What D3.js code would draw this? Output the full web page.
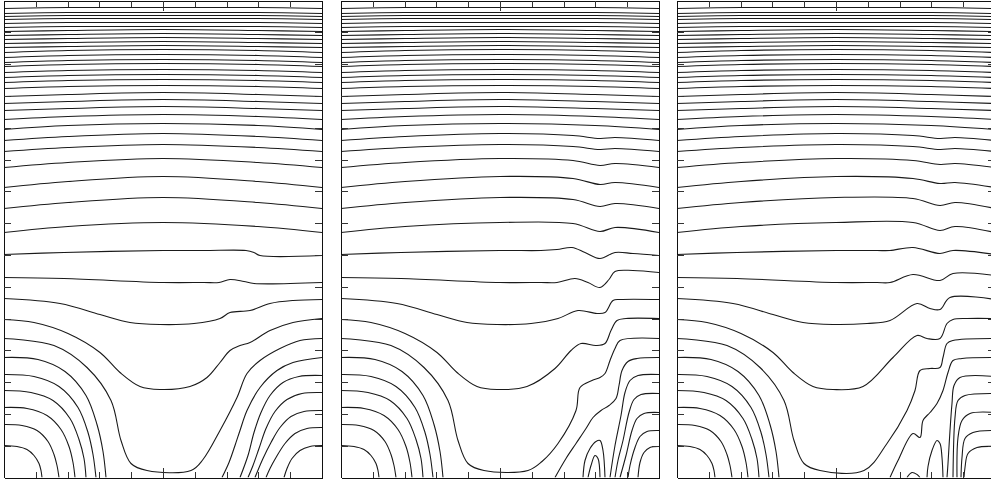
<!DOCTYPE html>
<html>
<head>
<meta charset="utf-8">
<script src="https://cdn.jsdelivr.net/npm/d3@7"></script>
<style>
  body { margin: 0; background: #fff; }
  svg { display: block; }
</style>
</head>
<body>
<svg id="chart" width="991" height="481"></svg>
<script>
// model grid units: x 0..318 across, depth 0..477 down
const xTicks = [31.8, 63.6, 95.4, 127.2, 159, 190.8, 222.6, 254.4, 286.2];
const yTicks = [31.8, 63.6, 95.4, 127.2, 159, 190.8, 222.6, 254.4, 286.2, 318, 349.8, 381.6, 413.4, 445.2];
const panelLeft = [4, 341, 677];

// upper, nearly flat isolines: depth at edge, at x=64/254 and at centre
const topX = [0, 64, 159, 254, 318];
const topCenter = [7, 12, 15, 18, 22, 26, 29, 33, 37, 41, 45, 49, 54, 59, 63, 69, 74, 79, 85, 92, 99, 106, 114, 123, 133, 144, 158, 176, 197, 222];
const topMid    = [7, 12, 15, 18, 22, 26, 30, 34, 38, 42, 46, 50, 55, 60, 64, 70, 75, 80, 86, 94, 101, 108, 116, 125, 136, 147, 162, 181, 202, 226];
const topEdge   = [8, 13, 16, 19, 23, 27, 31, 35, 39, 43, 47, 52, 57, 62, 66, 72, 77, 82, 88, 96, 103, 110, 119, 129, 140, 151, 167, 187, 208, 232];

// right-hand ripples on the six deepest upper isolines (panels 2 and 3)
const p2TopRight = [
  [[232,135],[259,138],[274,137],[318,140]],
  [[232,146],[259,149],[274,148],[318,151]],
  [[232,160],[259,165],[274,163],[318,167]],
  [[232,178],[259,184],[274,182],[318,187]],
  [[232,199],[259,206],[274,203],[318,208]],
  [[232,223],[259,231],[274,227],[318,232]]
];
const p3TopRight = [
  [[236,135],[263,138],[278,137],[318,140]],
  [[236,146],[263,149],[278,148],[318,151]],
  [[236,160],[263,164],[278,163],[318,167]],
  [[236,178],[263,183],[278,182],[318,187]],
  [[236,198],[263,205],[278,202],[318,208]],
  [[236,222],[263,230],[278,226],[318,232]]
];

// left halves shared by all panels
const lineA = [[0,254],[60,252],[159,250],[200,250]];
const lineB = [[0,277],[60,278],[159,282],[200,282]];
const lineC = [[0,298],[56,303],[96,314],[126,322],[156,324],[190,323]];
const lineD = [[0,319],[30,322],[64,333],[96,352],[116,372],[136,386],[156,389],[186,386]];
const lineE = [[0,338],[50,345],[83,367],[107,400],[117,440],[127,463],[143,470],[187,470]];
const leftArcs = [
  [[0,357],[34,359],[61,371],[82,395],[93,424],[99,451],[102,477]],
  [[0,374],[30,376],[55,386],[74,407],[84,432],[89,454],[92,477]],
  [[0,390],[27,392],[49,400],[66,418],[75,439],[80,458],[82,477]],
  [[0,407],[23,408],[43,415],[57,429],[65,446],[69,462],[71,477]],
  [[0,424],[18,425],[33,430],[44,441],[50,454],[53,465],[55,477]],
  [[0,445],[13,446],[23,449],[30,455],[35,463],[37,470],[38,477]]
];

// panel 1 right side
const p1A = [[242,250],[250,252],[256,255],[318,255]];
const p1B = [[215,282],[226,279],[240,281],[250,283],[318,282]];
const p1C = [[216,318],[226,312],[246,310],[266,303],[289,300],[318,299]];
const p1D = [[203,377],[216,362],[226,350],[236,345],[246,342],[266,330],[289,322],[318,318]];
const p1E = [[199,459],[216,430],[233,397],[243,373],[256,360],[276,348],[296,340],[318,338]];
const p1Arcs = [
  [[318,357],[289,362],[273,370],[256,387],[243,410],[236,430],[231,445],[225,462],[218,477]],
  [[318,375],[295,376],[279,382],[266,395],[257,412],[250,432],[244,455],[236,477]],
  [[318,392],[298,393],[283,399],[271,411],[262,428],[255,448],[249,465],[244,477]],
  [[318,410],[300,411],[287,416],[276,427],[267,442],[259,458],[251,477]],
  [[318,427],[303,428],[291,433],[281,443],[272,457],[266,468],[262,477]],
  [[318,445],[306,446],[296,450],[288,458],[283,468],[280,477]]
];

// panel 2 right side
const p2A = [[216,249],[231,247],[244,252],[259,258],[274,252],[292,253],[318,255]];
const p2B = [[216,282],[234,278],[247,282],[259,287],[268,279],[274,271],[292,270],[318,272]];
const p2C = [[217,318],[237,310],[256,313],[264,312],[272,300],[279,299],[318,299]];
const p2D = [[214,368],[230,350],[240,343],[255,345],[264,343],[270,330],[276,320],[285,318],[318,318]];
const p2E = [[201,461],[217,443],[235,410],[239,387],[251,380],[259,377],[264,373],[269,360],[274,348],[279,340],[318,338]];
const p2Arcs = [
  [[318,357],[296,358],[287,361],[281,370],[278,385],[275,398],[268,405],[260,410],[252,417],[245,428],[235,443],[225,458],[214,477]],
  [[318,374],[297,375],[289,380],[284,392],[280,415],[274,445],[269,477]],
  [[318,393],[300,394],[293,399],[288,412],[282,440],[277,460],[274,477]],
  [[318,412],[303,413],[296,418],[291,430],[285,455],[279,477]],
  [[318,430],[306,431],[299,436],[294,447],[289,465],[287,477]],
  [[318,446],[309,447],[303,452],[299,462],[297,477]],
  [[242,477],[244,460],[249,448],[255,441],[259,440],[262,450],[264,477]],
  [[247,477],[250,465],[254,455],[257,458],[259,477]]
];

// panel 3 right side
const p3A = [[213,250],[236,247],[263,253],[276,250],[318,254]];
const p3B = [[213,282],[236,274],[263,280],[276,273],[318,275]];
const p3C = [[213,320],[240,303],[253,308],[263,309],[273,297],[318,299]];
const p3D = [[216,357],[240,335],[250,338],[263,338],[270,323],[276,319],[290,318],[318,318]];
const p3E = [[210,443],[230,410],[238,390],[243,370],[253,368],[263,367],[266,357],[270,343],[276,340],[318,338]];
const p3Arcs = [
  [[318,357],[285,358],[276,360],[271,372],[266,390],[260,403],[253,412],[246,420],[243,437],[236,433],[221,460],[213,477]],
  [[318,376],[283,377],[277,385],[275,403],[273,430],[271,463],[270,477]],
  [[318,393],[288,395],[281,400],[278,417],[276,477]],
  [[318,412],[293,413],[285,420],[281,437],[280,477]],
  [[318,430],[296,432],[288,438],[285,457],[284,477]],
  [[318,446],[300,447],[291,453],[288,467],[287,477]],
  [[230,477],[235,472],[240,474],[243,477]],
  [[250,477],[251,466],[255,450],[260,440],[263,443],[265,457],[266,477]]
];

const topLines = topCenter.map((c, k) =>
  topX.map((xv, j) => [xv, [topEdge[k], topMid[k], c, topMid[k], topEdge[k]][j]]));
const rippled = (ripples) => topLines.map((pts, k) => {
  const r = ripples[k - (topLines.length - ripples.length)];
  return r ? pts.slice(0, 3).concat(r) : pts;
});

const panels = [
  topLines.concat([lineA.concat(p1A), lineB.concat(p1B), lineC.concat(p1C), lineD.concat(p1D), lineE.concat(p1E)], leftArcs, p1Arcs),
  rippled(p2TopRight).concat([lineA.concat(p2A), lineB.concat(p2B), lineC.concat(p2C), lineD.concat(p2D), lineE.concat(p2E)], leftArcs, p2Arcs),
  rippled(p3TopRight).concat([lineA.concat(p3A), lineB.concat(p3B), lineC.concat(p3C), lineD.concat(p3D), lineE.concat(p3E)], leftArcs, p3Arcs)
];

const W = 318, H = 477;
const svg = d3.select("#chart");

panels.forEach((isolines, i) => {
  const x = d3.scaleLinear().domain([0, 318]).range([panelLeft[i], panelLeft[i] + W]);
  const y = d3.scaleLinear().domain([0, 477]).range([0.5, 477.5]);

  svg.append("clipPath").attr("id", "clip" + i)
    .append("rect").attr("x", x(0)).attr("y", y(0)).attr("width", W).attr("height", H);

  const line = d3.line()
    .x(d => x(d[0])).y(d => y(d[1]))
    .curve(d3.curveCatmullRom.alpha(0.5));

  const g = svg.append("g").attr("clip-path", "url(#clip" + i + ")");
  g.selectAll("path.iso")
    .data(isolines)
    .join("path")
    .attr("class", "iso")
    .attr("d", line)
    .attr("fill", "none")
    .attr("stroke", "#1a1a1a")
    .attr("stroke-width", 1.1);

  // frame + inward ticks
  const axes = svg.append("g").attr("shape-rendering", "crispEdges");
  const axStyle = sel => {
    sel.selectAll("path.domain").attr("stroke", "#111");
    sel.selectAll(".tick line").attr("stroke", "#333");
  };
  axes.append("g").attr("transform", `translate(0,${y(0)})`)
    .call(d3.axisTop(x).tickValues(xTicks).tickSize(-6).tickSizeOuter(0).tickFormat(""))
    .call(axStyle)
    .call(s => s.selectAll(".tick").filter(d => d === 159).select("line").attr("y2", 10));
  axes.append("g").attr("transform", `translate(0,${y(477)})`)
    .call(d3.axisBottom(x).tickValues(xTicks).tickSize(-6).tickSizeOuter(0).tickFormat(""))
    .call(axStyle)
    .call(s => s.selectAll(".tick").filter(d => d === 159).select("line").attr("y2", -10));
  axes.append("g").attr("transform", `translate(${x(0)},0)`)
    .call(d3.axisLeft(y).tickValues(yTicks).tickSize(-7).tickSizeOuter(0).tickFormat(""))
    .call(axStyle);
  axes.append("g").attr("transform", `translate(${x(318)},0)`)
    .call(d3.axisRight(y).tickValues(yTicks).tickSize(-7).tickSizeOuter(0).tickFormat(""))
    .call(axStyle);
  svg.selectAll(".tick text").remove();
});
</script>
</body>
</html>
